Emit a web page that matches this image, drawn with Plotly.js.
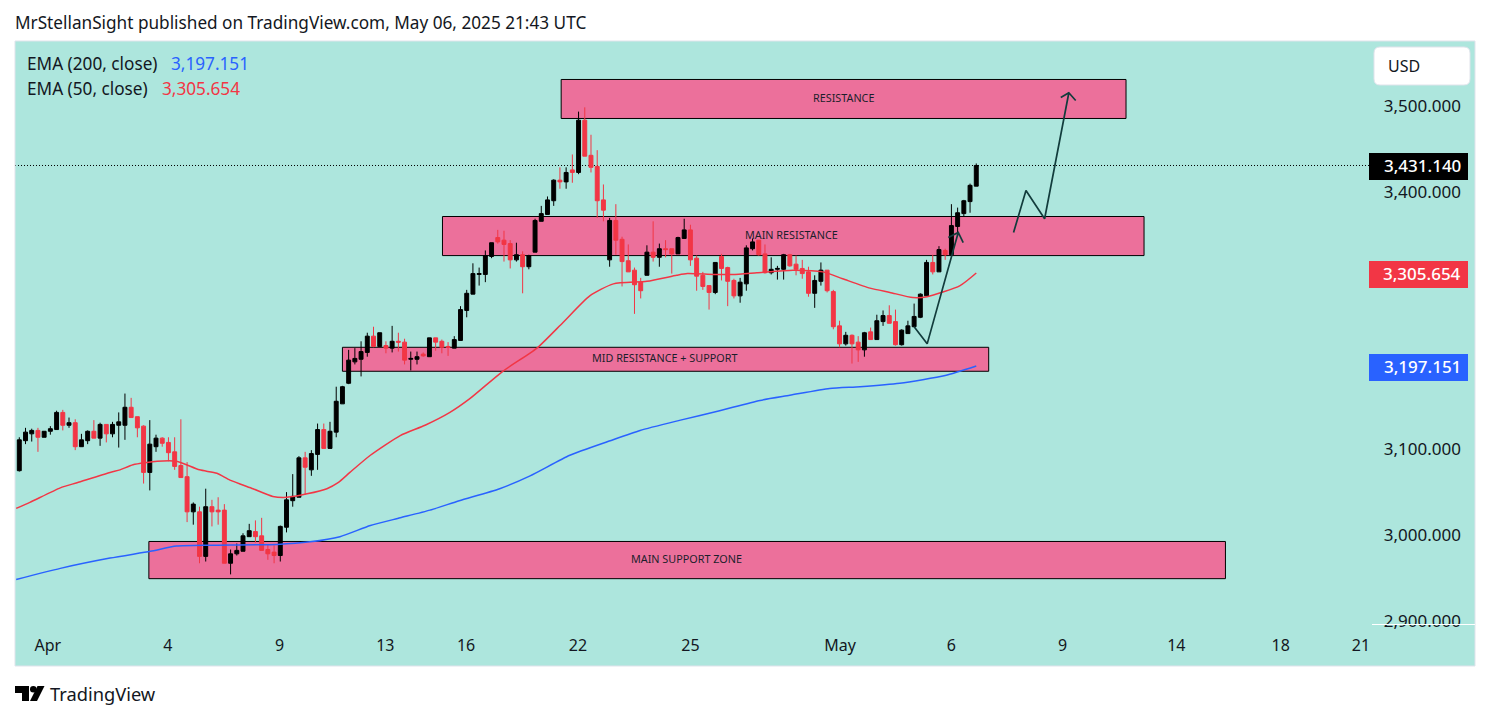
<!DOCTYPE html>
<html>
<head>
<meta charset="utf-8">
<script src="https://cdn.plot.ly/plotly-3.0.1.min.js"></script>
<style>html,body{margin:0;padding:0;background:#fff}#chart{width:1491px;height:720px}</style>
</head>
<body>
<div id="chart"></div>
<script>
const open_ = [3075,3110,3118,3122,3114,3121,3123,3143,3128,3131,3103,3110,3121,3113,3129,3118,3128,3128,3149,3138,3127,3073,3103,3113,3108,3097,3081,3068,3027,3027,2975,3033,3029,3029,2967,2978,2981,2998,3004,2999,2983,2980,2976,3009,3040,3044,3090,3076,3094,3123,3101,3120,3153,3177,3202,3205,3213,3232,3220,3221,3218,3226,3225,3205,3205,3211,3208,3230,3226,3220,3218,3227,3262,3281,3304,3304,3325,3347,3344,3340,3321,3327,3313,3330,3366,3374,3390,3414,3412,3426,3423,3484,3443,3430,3391,3321,3367,3345,3320,3309,3295,3303,3330,3324,3334,3334,3328,3346,3356,3323,3303,3291,3283,3325,3312,3297,3279,3293,3334,3344,3328,3306,3310,3310,3327,3316,3311,3307,3282,3296,3309,3284,3244,3223,3233,3225,3216,3237,3228,3249,3256,3249,3222,3235,3243,3254,3279,3318,3307,3332,3327,3360,3375,3389,3407];
const high = [3114,3125,3124,3125,3121,3127,3145,3146,3137,3135,3118,3122,3134,3131,3129,3132,3143,3165,3160,3138,3128,3134,3117,3114,3114,3114,3135,3085,3038,3033,3054,3041,3044,3036,2983,2990,3002,3013,3017,3020,2989,2988,3011,3050,3071,3092,3097,3099,3130,3130,3132,3173,3174,3216,3218,3226,3236,3243,3236,3226,3244,3236,3229,3214,3214,3213,3230,3230,3228,3225,3232,3267,3286,3317,3312,3332,3341,3356,3355,3344,3341,3331,3327,3369,3384,3395,3415,3429,3429,3444,3494,3499,3467,3449,3409,3370,3386,3348,3339,3312,3300,3338,3366,3340,3344,3334,3348,3369,3362,3326,3307,3291,3318,3328,3313,3299,3300,3338,3346,3344,3339,3324,3314,3328,3328,3326,3321,3313,3303,3318,3309,3286,3250,3237,3234,3232,3237,3242,3257,3262,3268,3263,3240,3250,3270,3282,3321,3327,3337,3334,3386,3382,3391,3410,3433.5];
const low = [3074,3106,3109,3097,3114,3117,3123,3122,3125,3099,3103,3106,3113,3104,3108,3114,3102,3111,3137,3114,3060,3052,3097,3103,3086,3076,3067,3015,3012,2967,2969,3010,3012,2967,2954,2976,2981,2998,2991,2982,2971,2967,2969,3003,3033,3044,3047,3069,3076,3101,3101,3114,3153,3176,3199,3185,3208,3219,3220,3212,3213,3214,3199,3192,3199,3208,3208,3215,3212,3209,3218,3227,3254,3281,3291,3295,3323,3340,3319,3311,3319,3282,3310,3330,3366,3374,3384,3404,3404,3411,3421,3442,3423,3370,3366,3313,3327,3290,3307,3258,3276,3303,3319,3313,3324,3305,3328,3346,3314,3285,3286,3263,3281,3297,3267,3276,3271,3285,3332,3326,3305,3304,3298,3298,3313,3303,3299,3278,3265,3291,3283,3240,3219,3221,3200,3202,3208,3228,3228,3244,3247,3221,3221,3235,3243,3253,3279,3304,3307,3321,3327,3349,3372,3376,3407];
const close_ = [3111,3120,3122,3114,3121,3124,3143,3128,3131,3103,3111,3121,3113,3129,3118,3129,3132,3149,3137,3125,3073,3106,3113,3107,3096,3080,3067,3027,3036,2975,3033,3027,3027,2967,2978,2982,2999,3005,2998,2982,2978,2976,3010,3041,3045,3090,3079,3095,3123,3101,3121,3156,3173,3204,3206,3214,3232,3220,3236,3218,3226,3225,3204,3206,3208,3209,3230,3225,3219,3219,3228,3263,3282,3305,3305,3326,3341,3342,3339,3321,3327,3313,3326,3367,3375,3391,3414,3412,3423,3423,3484,3442,3429,3390,3379,3367,3344,3319,3307,3292,3285,3330,3324,3334,3333,3328,3347,3356,3321,3302,3290,3283,3318,3311,3296,3279,3295,3335,3342,3327,3306,3310,3311,3327,3314,3310,3305,3282,3297,3309,3285,3243,3223,3233,3223,3216,3236,3228,3250,3256,3247,3222,3239,3244,3255,3281,3318,3307,3333,3327,3361,3376,3390,3408,3431.14];

const emaRedIndex = [-0.5,1.7,6.6,9.3,14.6,16.2,18.3,22.2,25.3,29,31.8,33.9,37.6,40.8,43.1,46.3,49.5,51.3,53.2,56.5,61.3,65.3,69.3,72.5,77.8,83.3,87.5,91.8,95.6,101,105.8,107.5,111.7,114.8,118.7,124.5,129.3,132.5,136.9,140.1,143.8,146.1,151.4,154];
const emaRedPrice = [3031,3038,3055,3061,3073,3076,3082,3086,3086,3076,3072,3064,3054,3045,3044,3048,3054,3061,3073,3093,3116,3128,3143,3159,3191,3218,3248,3279,3293,3296,3303,3305,3304,3304,3306,3309,3307,3299,3288,3283,3277,3278,3291,3305.654];
const emaBlueIndex = [-0.5,6.6,14.6,21.1,25.3,30.7,41.5,46.8,51.6,56.5,61.3,66.1,70.8,77.3,82.2,88.6,95.1,99.9,106.4,112.7,119.2,124,130.4,135.3,141.7,149,154];
const emaBluePrice = [2948,2961,2973,2981,2987,2988,2989,2992,2998,3011,3020,3029,3040,3054,3069,3093,3110,3122,3134,3145,3157,3163,3171,3173,3177,3186,3197.151];

const zoneNames = ["RESISTANCE","MAIN RESISTANCE","MID RESISTANCE + SUPPORT","MAIN SUPPORT ZONE"];
const zoneStart = [87.2,68.1,52,20.85];
const zoneEnd = [178.1,181,156,194.1];
const zoneTop = [3531.5,3371.6,3219,2992.4];
const zoneBottom = [3486,3326,3191,2949];
const zoneLabelIndex = [132.6,124.2,103.9,107.3];
const zoneLabelPrice = [3511,3351,3207,2973];

const arrowOneIndex = [144,146.1,151.1,149.5,151.1,151.9];
const arrowOnePrice = [3243,3223,3353,3347,3353,3341];
const arrowTwoIndex = [160,162,165,168.9,167.6,168.9,170];
const arrowTwoPrice = [3353,3402,3369,3516,3510.5,3516,3507];

const xTickIndex = [4.6,23.9,41.9,58.9,71.9,89.9,108,132.1,150,167.9,186.2,203,215.9];
const xTickText = ["Apr","4","9","13","16","22","25","May","6","9","14","18","21"];
const yTickVals = [2900,3000,3100,3400,3500];
const yTickText = ["2,900.000","3,000.000","3,100.000","3,400.000","3,500.000"];

const FONT = '"Noto Sans", sans-serif';
const INK = '#131722', RED = '#F23645', BLUE = '#2962FF', TEAL = '#ADE6DD', PINK = '#EC709B', PEN = '#123C3C';
const X = px => (px - 15) / 1460;
const Y = py => (666 - py) / 625;

const candleIndex = open_.map((_, i) => i);
const traces = [
  {type:'scatter',mode:'lines',x:emaBlueIndex,y:emaBluePrice,line:{color:BLUE,width:1.5,shape:'spline',smoothing:0.6},hoverinfo:'skip'},
  {type:'scatter',mode:'lines',x:emaRedIndex,y:emaRedPrice,line:{color:RED,width:1.5,shape:'spline',smoothing:0.6},hoverinfo:'skip'},
  {type:'scatter',mode:'lines',x:arrowOneIndex,y:arrowOnePrice,line:{color:PEN,width:1.7},hoverinfo:'skip'},
  {type:'scatter',mode:'lines',x:arrowTwoIndex,y:arrowTwoPrice,line:{color:PEN,width:1.7},hoverinfo:'skip'},
  {type:'candlestick',x:candleIndex,open:open_,high:high,low:low,close:close_,whiskerwidth:0,
   increasing:{line:{color:'#000000',width:1},fillcolor:'#000000'},
   decreasing:{line:{color:RED,width:1},fillcolor:RED},hoverinfo:'skip'}
];

const pxRect = (x0,y0,x1,y1,fill) => ({type:'rect',xref:'paper',yref:'paper',x0:X(x0),x1:X(x1),y0:Y(y0),y1:Y(y1),fillcolor:fill,line:{width:0},layer:'above'});
const roundRect = (x0,y0,x1,y1,r) => {
  const a=X(x0),b=X(x1),c=Y(y0),d=Y(y1),rx=r/1460,ry=r/625;
  return `M ${a+rx} ${c} L ${b-rx} ${c} Q ${b} ${c} ${b} ${c-ry} L ${b} ${d+ry} Q ${b} ${d} ${b-rx} ${d} L ${a+rx} ${d} Q ${a} ${d} ${a} ${d+ry} L ${a} ${c-ry} Q ${a} ${c} ${a+rx} ${c} Z`;
};
const poly = pts => 'M ' + pts.map(p => X(p[0]) + ' ' + Y(p[1])).join(' L ') + ' Z';

const shapes = [];
zoneNames.forEach((_, i) => shapes.push({type:'rect',xref:'x',yref:'y',x0:zoneStart[i],x1:zoneEnd[i],y0:zoneBottom[i],y1:zoneTop[i],fillcolor:PINK,line:{color:'#000000',width:1},layer:'below'}));
shapes.push({type:'line',xref:'x',yref:'y',x0:-0.69,x1:217.2,y0:3431.14,y1:3431.14,line:{color:'#000000',width:1,dash:'1px,2px'},layer:'below'});
shapes.push({type:'rect',xref:'paper',yref:'paper',x0:0,x1:1,y0:0,y1:1,fillcolor:'rgba(0,0,0,0)',line:{color:'#E0E3EB',width:1},layer:'above'});
shapes.push(pxRect(1372,624,1475,625,'#FFFFFF'));
shapes.push({type:'path',xref:'paper',yref:'paper',path:roundRect(1374,47,1470,85,6),fillcolor:'#FFFFFF',line:{color:'#E0E3EB',width:1},layer:'above'});
shapes.push(pxRect(1369,153,1468,180,'#000000'));
shapes.push(pxRect(1369,261,1468,288,RED));
shapes.push(pxRect(1369,354,1468,381,BLUE));
shapes.push({type:'path',xref:'paper',yref:'paper',path:poly([[15,686],[29,686],[29,701],[22,701],[22,693],[15,693]]),fillcolor:'#000000',line:{width:0},layer:'above'});
shapes.push({type:'circle',xref:'paper',yref:'paper',x0:X(30),x1:X(36.6),y0:Y(686),y1:Y(692.6),fillcolor:'#000000',line:{width:0},layer:'above'});
shapes.push({type:'path',xref:'paper',yref:'paper',path:poly([[37.5,686],[44.5,686],[37,701],[30,701]]),fillcolor:'#000000',line:{width:0},layer:'above'});

const pxText = (text,x,y,size,color,anchor,weight) => ({text,xref:'paper',yref:'paper',x:X(x),y:Y(y),xanchor:anchor||'left',yanchor:'middle',showarrow:false,borderpad:0,borderwidth:0,font:{family:FONT,size,color,weight:weight||400}});
const annotations = zoneNames.map((name,i) => ({text:name,xref:'x',yref:'y',x:zoneLabelIndex[i],y:zoneLabelPrice[i],showarrow:false,xanchor:'center',yanchor:'middle',font:{family:FONT,size:10.8,color:'#1b1f2b'}}));
annotations.push(
  pxText('MrStellanSight published on TradingView.com, May 06, 2025 21:43 UTC',15,22,17.2,INK),
  pxText('EMA (200, close)',27,63,17.2,INK),
  pxText('3,197.151',171,63,17.2,BLUE),
  pxText('EMA (50, close)',27,89,17.2,INK),
  pxText('3,305.654',162,89,17.2,RED),
  pxText('USD',1388,66,16,INK),
  pxText('3,431.140',1461,165.5,17,'#FFFFFF','right',500),
  pxText('3,305.654',1461,273.5,17,'#FFFFFF','right',500),
  pxText('3,197.151',1461,366.5,17,'#FFFFFF','right',500),
  pxText('TradingView',50,693.5,18.3,INK)
);

const layout = {
  width:1491,height:720,showlegend:false,
  margin:{l:15,r:16,t:41,b:54,pad:0},
  paper_bgcolor:'#FFFFFF',plot_bgcolor:TEAL,
  boxgap:0.1,dragmode:false,hovermode:false,
  font:{family:FONT,color:INK},
  xaxis:{type:'linear',range:[-0.692,234.26],tickmode:'array',tickvals:xTickIndex,ticktext:xTickText,
    showgrid:false,zeroline:false,showline:false,ticks:'',ticklabelposition:'inside',ticklabelstandoff:9,
    tickfont:{family:FONT,size:16,color:INK},rangeslider:{visible:false},fixedrange:true},
  yaxis:{type:'linear',side:'right',range:[2847.1,3576.4],tickmode:'array',tickvals:yTickVals,ticktext:yTickText,
    showgrid:false,zeroline:false,showline:false,ticks:'',ticklabelposition:'inside',ticklabelstandoff:11,
    tickfont:{family:FONT,size:17,color:INK},fixedrange:true},
  shapes,annotations
};
Plotly.newPlot('chart',traces,layout,{displayModeBar:false,staticPlot:true});
</script>
</body>
</html>
